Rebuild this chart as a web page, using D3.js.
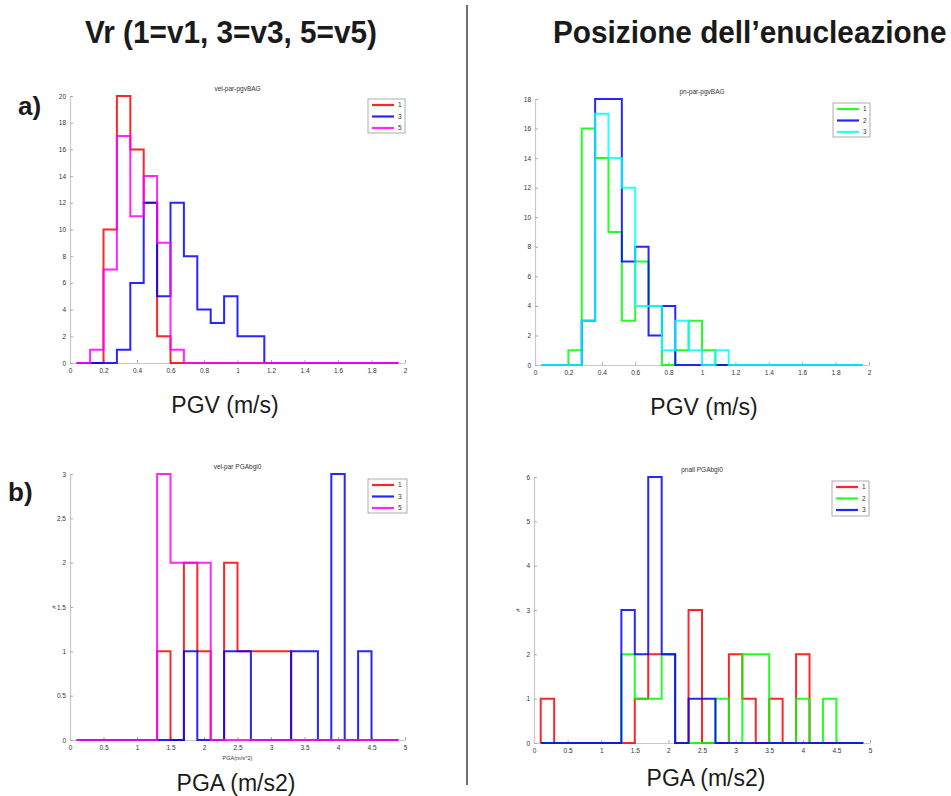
<!DOCTYPE html>
<html>
<head>
<meta charset="utf-8">
<script src="https://cdn.jsdelivr.net/npm/d3@7/dist/d3.min.js"></script>
<style>
  html, body { margin: 0; padding: 0; background: #fff; }
  svg { display: block; }
</style>
</head>
<body>
<script>
// ---------------- DATA ----------------
// Panel a (PGV) histogram: 24 bins of width 0.08 starting at 0.04
const pgvBinStart = 0.04;
const pgvBinWidth = 0.08;
// Vr classes
const pgvVr1 = [0,0,10,20,16,12,2,0,0,0,0,0,0,0,0,0,0,0,0,0,0,0,0,0];
const pgvVr3 = [0,0,0,1,6,12,5,12,8,4,3,5,2,2,0,0,0,0,0,0,0,0,0,0];
const pgvVr5 = [0,1,7,17,11,14,9,1,0,0,0,0,0,0,0,0,0,0,0,0,0,0,0,0];
// Nucleation position classes
const pgvPos1 = [0,0,1,16,14,9,3,7,4,0,1,3,1,0,0,0,0,0,0,0,0,0,0,0];
const pgvPos2 = [0,0,0,3,18,18,7,8,2,4,0,0,0,0,0,0,0,0,0,0,0,0,0,0];
const pgvPos3 = [0,0,0,3,17,14,12,4,4,1,3,1,0,1,0,0,0,0,0,0,0,0,0,0];

// Panel b (PGA) histogram: 24 bins of width 0.2 starting at 0.1
const pgaBinStart = 0.1;
const pgaBinWidth = 0.2;
const pgaVr1 = [0,0,0,0,0,0,1,0,2,1,0,2,1,1,1,1,0,0,0,0,0,0,0,0];
const pgaVr3 = [0,0,0,0,0,0,0,0,1,0,0,1,1,0,0,0,1,1,0,3,0,1,0,0];
const pgaVr5 = [0,0,0,0,0,0,3,2,2,2,0,0,0,0,0,0,0,0,0,0,0,0,0,0];
const pgaPos1 = [1,0,0,0,0,0,0,1,2,2,0,3,0,0,2,1,0,1,0,2,0,0,0,0];
const pgaPos2 = [0,0,0,0,0,0,2,1,1,2,0,0,0,1,0,2,2,0,0,1,0,1,0,0];
const pgaPos3 = [0,0,0,0,0,0,3,2,6,2,0,1,1,0,0,0,0,0,0,0,0,0,0,0];

// Tick values / labels
const pgvXTicks = [0,0.2,0.4,0.6,0.8,1,1.2,1.4,1.6,1.8,2];
const pgaXTicks = [0,0.5,1,1.5,2,2.5,3,3.5,4,4.5,5];
const vrPgvYTicks = [0,2,4,6,8,10,12,14,16,18,20];
const posPgvYTicks = [0,2,4,6,8,10,12,14,16,18];
const vrPgaYTicks = [0,0.5,1,1.5,2,2.5,3];
const posPgaYTicks = [0,1,2,3,4,5,6];

const vrLabels = ["1","3","5"];
const posLabels = ["1","2","3"];

// Texts
const headerLeft = "Vr (1=v1, 3=v3, 5=v5)";
const headerRight = "Posizione dell\u2019enucleazione";
const panelTitles = ["vel-par-pgvBAG","pn-par-pgvBAG","vel-par PGAbgi0","pnall PGAbgi0"];

// ---------------- DRAWING ----------------
const W = 951, H = 796;
const svg = d3.select("body").append("svg").attr("width", W).attr("height", H)
  .style("font-family", "'Liberation Sans', Arial, Helvetica, sans-serif");

const panels = [
  { box:[70,405,96,363], xDom:[0,2], yDom:[0,20], xt:pgvXTicks, yt:vrPgvYTicks,
    start:pgvBinStart, width:pgvBinWidth, series:[pgvVr1,pgvVr3,pgvVr5],
    colors:["#ff0000","#0000ff","#ff00ff"], labels:vrLabels, title:panelTitles[0],
    legend:[368,99,37,34], ylabel:null, xlabel:null },
  { box:[535,869,99,365], xDom:[0,2], yDom:[0,18], xt:pgvXTicks, yt:posPgvYTicks,
    start:pgvBinStart, width:pgvBinWidth, series:[pgvPos1,pgvPos2,pgvPos3],
    colors:["#00ff00","#0000ff","#00ffff"], labels:posLabels, title:panelTitles[1],
    legend:[833,103,37,34], ylabel:null, xlabel:null },
  { box:[70,405,474,740], xDom:[0,5], yDom:[0,3], xt:pgaXTicks, yt:vrPgaYTicks,
    start:pgaBinStart, width:pgaBinWidth, series:[pgaVr1,pgaVr3,pgaVr5],
    colors:["#ff0000","#0000ff","#ff00ff"], labels:vrLabels, title:panelTitles[2],
    legend:[368,479,39,34], ylabel:"#", xlabel:"PGA(m/s^2)" },
  { box:[534,870,477,743], xDom:[0,5], yDom:[0,6], xt:pgaXTicks, yt:posPgaYTicks,
    start:pgaBinStart, width:pgaBinWidth, series:[pgaPos1,pgaPos2,pgaPos3],
    colors:["#ff0000","#00ff00","#0000ff"], labels:posLabels, title:panelTitles[3],
    legend:[832,481,37,35], ylabel:"#", xlabel:null }
];

const fmt = d3.format("~g");

panels.forEach(p => {
  const [x0,x1,y0,y1] = p.box;
  const x = d3.scaleLinear().domain(p.xDom).range([x0,x1]);
  const y = d3.scaleLinear().domain(p.yDom).range([y1,y0]);
  const g = svg.append("g");

  // axes (MATLAB-like, ticks inward)
  const xAxis = d3.axisBottom(x).tickValues(p.xt).tickFormat(fmt).tickSizeInner(-3).tickSizeOuter(0).tickPadding(5);
  const yAxis = d3.axisLeft(y).tickValues(p.yt).tickFormat(fmt).tickSizeInner(-3).tickSizeOuter(0).tickPadding(4);
  const gx = g.append("g").attr("transform", `translate(0,${y1})`).call(xAxis);
  const gy = g.append("g").attr("transform", `translate(${x0},0)`).call(yAxis);
  [gx,gy].forEach(a => {
    a.select(".domain").attr("stroke","#c8c8c8").attr("stroke-width",1.2);
    a.selectAll(".tick line").attr("stroke","#aaa");
    a.selectAll(".tick text").attr("fill","#333").style("font-size","6.5px").style("font-family","'Liberation Sans', Arial, sans-serif");
  });

  // title
  g.append("text").attr("x",(x0+x1)/2).attr("y",y0-5).attr("text-anchor","middle")
    .attr("fill","#333").style("font-size","6.5px").text(p.title);

  if (p.ylabel) {
    g.append("text").attr("transform",`translate(${x0-14},${(y0+y1)/2}) rotate(-90)`)
      .attr("text-anchor","middle").attr("fill","#333").style("font-size","6px").text(p.ylabel);
  }
  if (p.xlabel) {
    g.append("text").attr("x",(x0+x1)/2).attr("y",y1+20).attr("text-anchor","middle")
      .attr("fill","#333").style("font-size","5.5px").text(p.xlabel);
  }

  // stair histograms
  const line = d3.line().x(d => x(d[0])).y(d => y(d[1]));
  p.series.forEach((counts, si) => {
    const pts = [[p.start, 0]];
    counts.forEach((c, i) => {
      const e0 = p.start + i * p.width, e1 = p.start + (i + 1) * p.width;
      pts.push([e0, c]); pts.push([e1, c]);
    });
    pts.push([p.start + counts.length * p.width, 0]);
    g.append("path").attr("d", line(pts)).attr("fill","none")
      .attr("stroke", p.colors[si]).attr("stroke-width", 2).attr("stroke-opacity", 0.85)
      .attr("stroke-linejoin","miter");
  });

  // legend
  const [lx,ly,lw,lh] = p.legend;
  const lg = g.append("g");
  lg.append("rect").attr("x",lx).attr("y",ly).attr("width",lw).attr("height",lh)
    .attr("fill","#fff").attr("stroke","#999").attr("stroke-width",0.8);
  p.labels.forEach((lab, i) => {
    const yy = ly + 6 + i * 11.5;
    lg.append("line").attr("x1",lx+4).attr("x2",lx+26).attr("y1",yy).attr("y2",yy)
      .attr("stroke",p.colors[i]).attr("stroke-width",2.2).attr("stroke-opacity",0.85);
    lg.append("text").attr("x",lx+30).attr("y",yy+2.2).attr("fill","#333")
      .style("font-size","6.5px").text(lab);
  });
});

// headers (condensed bold look)
const headFont = "'Liberation Sans Narrow', 'Arial Narrow', 'Liberation Sans', Arial, sans-serif";
svg.append("text").attr("transform","translate(231,43) scale(0.93,1)").attr("text-anchor","middle")
  .style("font-family",headFont).style("font-weight","bold").style("font-size","32px")
  .attr("fill","#1a1a1a").text(headerLeft);
svg.append("text").attr("transform","translate(553,43) scale(0.93,1)").attr("text-anchor","start")
  .style("font-family",headFont).style("font-weight","bold").style("font-size","32px")
  .attr("fill","#1a1a1a").text(headerRight);

// divider
svg.append("line").attr("x1",467).attr("x2",467).attr("y1",5).attr("y2",785)
  .attr("stroke","#222").attr("stroke-width",1.3);

// row labels
svg.append("text").attr("x",18).attr("y",115).style("font-weight","bold").style("font-size","26px")
  .attr("fill","#1a1a1a").text("a)");
svg.append("text").attr("x",8).attr("y",501).style("font-weight","bold").style("font-size","26px")
  .attr("fill","#1a1a1a").text("b)");

// axis quantity labels
const qLabels = [
  {x:225, y:413, t:"PGV (m/s)"},
  {x:704, y:415, t:"PGV (m/s)"},
  {x:236, y:791, t:"PGA (m/s2)"},
  {x:706, y:786, t:"PGA (m/s2)"}
];
qLabels.forEach(q => {
  svg.append("text").attr("x",q.x).attr("y",q.y).attr("text-anchor","middle")
    .style("font-size","23px").attr("fill","#1a1a1a").text(q.t);
});
</script>
</body>
</html>
